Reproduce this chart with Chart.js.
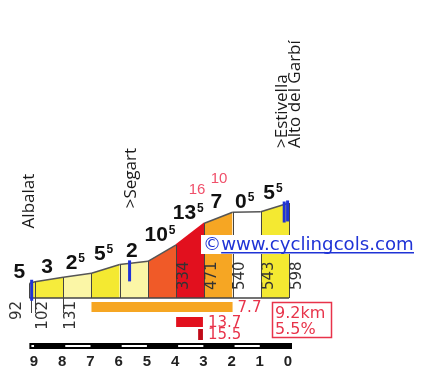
<!DOCTYPE html>
<html>
<head>
<meta charset="utf-8">
<script src="https://cdn.jsdelivr.net/npm/chart.js@4.4.1/dist/chart.umd.min.js"></script>
<style>
  html, body { margin:0; padding:0; background:#fff; }
  canvas { display:block; }
</style>
</head>
<body>
<canvas id="chartPerfil" width="422" height="374"></canvas>
<script>
// ============================================================
// Alto del Garbí desde Albalat — perfil
// ============================================================

// profile: km to go / altitude (m)
const kmLeft   = [9.2, 9, 8, 7, 6, 5, 4, 3, 2, 1, 0];
const altitude = [92, 102, 131, 156, 211, 231, 334, 471, 540, 543, 598];

// gradient of each stretch, whole part + superscript half
const gradeMain   = ['5', '3', '2', '5', '2', '10', '13', '7', '0', '5'];
const gradeSup    = ['',  '',  '5', '5', '',  '5',  '5',  '',  '5', '5'];
const gradeColors = ['#F6EC3C', '#F6EC3C', '#FBF6A6', '#F4E931', '#FBF6A6',
                     '#F05A28', '#E2101E', '#F6A623', '#FFFFFF', '#F4E931'];

// altitude labels
const altLabelKm  = [9.2, 9, 8, 4, 3, 2, 1, 0];
const altLabelVal = [92, 102, 131, 334, 471, 540, 543, 598];

// places
const placeKm    = [9.2, 5.6, 0];
const placeNames = [['Albalat'], ['>Segart'], ['>Estivella', 'Alto del Garbí']];
const markerKm   = [9.12, 5.65, 0.17, 0.05];

// max gradients (red, above the profile)
const maxGradeKm  = [3.26, 2.48];
const maxGradeTxt = ['16', '10'];

// steepest stretches under the profile
const stretchFrom  = [7, 4, 3.22];
const stretchTo    = [2, 3.05, 3.05];
const stretchGrade = ['7.7', '13.7', '15.5'];
const stretchColor = ['#F6A623', '#E2101E', '#C00A18'];

const kmTicks  = [9, 8, 7, 6, 5, 4, 3, 2, 1, 0];
const totalKm  = '9.2km';
const avgGrade = '5.5%';

const RED  = '#E8334A';
const BLUE = '#1F33D6';

// ------------------------------------------------------------
function altAt(km) {
  for (let i = 0; i < kmLeft.length - 1; i++) {
    const a = kmLeft[i], b = kmLeft[i + 1];
    if (km <= a && km >= b) return altitude[i] + (altitude[i + 1] - altitude[i]) * (a - km) / (a - b);
  }
  return km > kmLeft[0] ? altitude[0] : altitude[altitude.length - 1];
}

function rotText(ctx, txt, x, y, align) {
  ctx.save();
  ctx.translate(x, y);
  ctx.rotate(-Math.PI / 2);
  ctx.textAlign = align;
  ctx.textBaseline = 'middle';
  ctx.fillText(txt, 0, 0);
  ctx.restore();
}

const profilePlugin = {
  id: 'profile',
  afterDatasetsDraw(chart) {
    const { ctx, scales: { x, y } } = chart;
    const base = y.getPixelForValue(0);
    const topAt = km => y.getPixelForValue(altAt(km));

    ctx.save();

    // km dividers + baseline
    ctx.strokeStyle = '#444';
    ctx.lineWidth = 1;
    kmLeft.forEach((k, i) => {
      const px = Math.round(x.getPixelForValue(k)) + 0.5;
      ctx.beginPath();
      ctx.moveTo(px, base);
      ctx.lineTo(px, y.getPixelForValue(altitude[i]));
      ctx.stroke();
    });
    ctx.lineWidth = 1.5;
    ctx.beginPath();
    ctx.moveTo(x.getPixelForValue(kmLeft[0]), base);
    ctx.lineTo(x.getPixelForValue(0), base);
    ctx.stroke();

    // altitude labels
    ctx.fillStyle = '#333';
    ctx.font = '15px "DejaVu Sans"';
    altLabelKm.forEach((k, i) => {
      const px = x.getPixelForValue(k);
      if (altLabelVal[i] < 200) {
        const lx = i === 0 ? px - 12 : px + 8;
        ctx.strokeStyle = '#444';
        ctx.lineWidth = 1;
        ctx.beginPath();
        ctx.moveTo(Math.round(px) + (i === 0 ? 2.5 : 0.5), base);
        ctx.lineTo(Math.round(px) + (i === 0 ? 2.5 : 0.5), base + 15);
        ctx.stroke();
        rotText(ctx, String(altLabelVal[i]), lx, base + 3, 'right');
      } else {
        rotText(ctx, String(altLabelVal[i]), px + 8, base - 8, 'left');
      }
    });

    // blue markers
    ctx.strokeStyle = BLUE;
    ctx.lineWidth = 3;
    markerKm.forEach(k => {
      const px = x.getPixelForValue(k), t = topAt(k);
      ctx.beginPath();
      ctx.moveTo(px, t - 3);
      ctx.lineTo(px, t + 18);
      ctx.stroke();
    });

    // gradient per stretch
    ctx.fillStyle = '#111';
    ctx.textBaseline = 'alphabetic';
    ctx.textAlign = 'left';
    for (let i = 0; i < gradeMain.length; i++) {
      const x0 = x.getPixelForValue(kmLeft[i]), x1 = x.getPixelForValue(kmLeft[i + 1]);
      const cx = (x1 - x0) < 10 ? x0 - 10 : (x0 + x1) / 2 - 2;
      const bottom = y.getPixelForValue(Math.max(altitude[i], altitude[i + 1])) - 4;
      ctx.font = 'bold 21px "Liberation Sans"';
      const wm = ctx.measureText(gradeMain[i]).width;
      ctx.font = 'bold 12px "Liberation Sans"';
      const ws = gradeSup[i] ? ctx.measureText(gradeSup[i]).width + 1 : 0;
      const sx = cx - (wm + ws) / 2;
      ctx.font = 'bold 21px "Liberation Sans"';
      ctx.fillText(gradeMain[i], sx, bottom);
      if (gradeSup[i]) {
        ctx.font = 'bold 12px "Liberation Sans"';
        ctx.fillText(gradeSup[i], sx + wm + 1, bottom - 7);
      }
    }

    // max gradients
    ctx.fillStyle = '#F0506A';
    ctx.font = '15px "Liberation Sans"';
    ctx.textAlign = 'center';
    maxGradeKm.forEach((k, i) => {
      ctx.fillText(maxGradeTxt[i], x.getPixelForValue(k), topAt(k) - 35);
    });

    // place names
    ctx.fillStyle = '#1a1a1a';
    ctx.font = '17px "Open Sans"';
    placeKm.forEach((k, i) => {
      const lines = placeNames[i];
      const px = x.getPixelForValue(k);
      const bottom = topAt(k) - 55;
      lines.forEach((ln, j) => {
        const off = (j - (lines.length - 1) / 2) * 13;
        rotText(ctx, ln, px + off, bottom, 'left');
      });
    });

    // steepest stretches
    const rows = [302, 317, 329], rowH = [10, 10, 11];
    ctx.font = '15px "DejaVu Sans"';
    ctx.textAlign = 'left';
    ctx.textBaseline = 'middle';
    stretchFrom.forEach((k, i) => {
      const a = x.getPixelForValue(k), b = x.getPixelForValue(stretchTo[i]);
      ctx.fillStyle = stretchColor[i];
      ctx.fillRect(a, rows[i], b - a, rowH[i]);
      ctx.fillStyle = RED;
      ctx.fillText(stretchGrade[i], b + 5, rows[i] + rowH[i] / 2 + 1);
    });

    // summary box
    ctx.strokeStyle = RED;
    ctx.lineWidth = 1.5;
    ctx.strokeRect(272.5, 302.5, 59, 35);
    ctx.fillStyle = RED;
    ctx.font = '16px "DejaVu Sans"';
    ctx.textBaseline = 'alphabetic';
    ctx.fillText(totalKm, 275, 318);
    ctx.fillText(avgGrade, 275, 334);

    // km scale bar
    const xs = x.getPixelForValue(9.2), xe = x.getPixelForValue(0) + 3;
    ctx.fillStyle = '#000';
    ctx.fillRect(xs, 343, xe - xs, 6);
    ctx.fillStyle = '#fff';
    [[9.2, 9], [8, 7], [6, 5], [4, 3], [2, 1]].forEach(([a, b]) => {
      const pa = x.getPixelForValue(a) + 2, pb = x.getPixelForValue(b) - 1;
      ctx.fillRect(pa, 345, pb - pa, 2);
    });
    ctx.fillStyle = '#222';
    ctx.font = 'bold 15px "Liberation Sans"';
    ctx.textAlign = 'center';
    ctx.textBaseline = 'middle';
    kmTicks.forEach(k => ctx.fillText(String(k), x.getPixelForValue(k) - 1, 362));

    // watermark
    ctx.fillStyle = '#fff';
    ctx.fillRect(201, 235, 215, 19);
    ctx.font = '16px "DejaVu Sans"';
    const wmTxt = '©www.cyclingcols.com';
    const fs = 16 * 211 / ctx.measureText(wmTxt).width;
    ctx.font = fs.toFixed(2) + 'px "DejaVu Sans"';
    ctx.fillStyle = BLUE;
    ctx.textAlign = 'left';
    ctx.textBaseline = 'alphabetic';
    ctx.fillText(wmTxt, 203, 250);
    const cw = ctx.measureText('©').width;
    ctx.fillRect(203 + cw, 252, 211 - cw, 1.5);

    ctx.restore();
  },
};

const PX_PER_M = 0.1588;
const Y_MAX = 1000;

new Chart(document.getElementById('chartPerfil'), {
  type: 'line',
  data: {
    datasets: [{
      data: kmLeft.map((k, i) => ({ x: k, y: altitude[i] })),
      fill: 'origin',
      clip: false,
      borderColor: '#555',
      borderWidth: 1.5,
      pointRadius: 0,
      tension: 0,
      segment: {
        backgroundColor: c => gradeColors[c.p0DataIndex],
        borderColor: c => (c.p0DataIndex === 6 ? '#E2101E' : '#555'),
      },
    }],
  },
  options: {
    responsive: false,
    animation: false,
    devicePixelRatio: 1,
    layout: { padding: { left: 29.4, right: 133, top: 298 - Y_MAX * PX_PER_M, bottom: 76 } },
    plugins: { legend: { display: false }, tooltip: { enabled: false } },
    scales: {
      x: { type: 'linear', min: 0, max: 9.2, reverse: true, display: false },
      y: { min: 0, max: Y_MAX, display: false },
    },
  },
  plugins: [profilePlugin],
});
</script>
</body>
</html>
